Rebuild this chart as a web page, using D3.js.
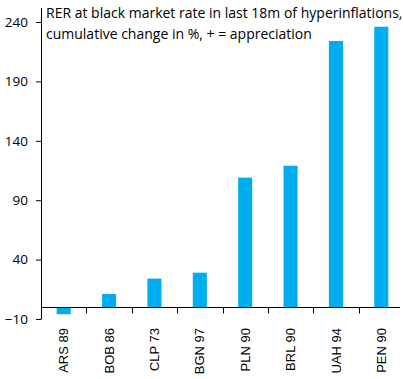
<!DOCTYPE html>
<html>
<head>
<meta charset="utf-8">
<script src="https://cdn.jsdelivr.net/npm/d3@7"></script>
<style>
  body { margin: 0; background: #fff; }
  text { font-family: "Liberation Sans", Arial, sans-serif; fill: #000; }
</style>
</head>
<body>
<div class="chart"></div>
<script>
(function() {
  var categories = ['ARS 89', 'BOB 86', 'CLP 73', 'BGN 97', 'PLN 90', 'BRL 90', 'UAH 94', 'PEN 90'];
  var values = [-6, 11, 24, 29, 109, 119, 224, 236];
  var yTicks = [-10, 40, 90, 140, 190, 240];
  var titleLines = ['RER at black market rate in last 18m  of hyperinflations,',
                    'cumulative change in %, + = appreciation'];

  var opts = { width: 403, height: 379, left: 41, right: 404, top: 22, bottom: 319 };

  var svg = d3.select('.chart')
              .append('svg')
              .attr('width', opts.width)
              .attr('height', opts.height);

  var y = d3.scaleLinear().domain([-10, 240]).range([opts.bottom, opts.top]);
  var x = d3.scaleBand().domain(categories).range([opts.left, opts.right]).padding(0);
  var bw = x.bandwidth();
  var barW = bw * 0.31;

  // bars
  svg.selectAll('.bar').data(values)
    .enter().append('rect')
      .attr('class', 'bar')
      .attr('x', function(d, i) { return x(categories[i]) + (bw - barW) / 2; })
      .attr('y', function(d) { return y(Math.max(d, 0)); })
      .attr('width', barW)
      .attr('height', function(d) { return Math.abs(y(d) - y(0)); })
      .style('fill', '#00AEEF');

  // y axis
  var yAxis = svg.append('g')
    .attr('transform', 'translate(' + opts.left + ',0)')
    .call(d3.axisLeft(y).tickValues(yTicks).tickSize(5).tickPadding(8).tickSizeOuter(0));
  yAxis.select('.domain').attr('d', 'M0.5,8V' + (opts.bottom + 0.5)).attr('stroke', '#000');
  yAxis.selectAll('.tick line').attr('stroke', '#000');
  yAxis.selectAll('.tick text')
    .style('font-size', '13.5px')
    .style('font-family', '"Open Sans", "Liberation Sans", sans-serif');

  // x axis along zero
  var y0 = Math.round(y(0)) + 0.5;
  svg.append('line')
    .attr('x1', opts.left).attr('x2', 400)
    .attr('y1', y0).attr('y2', y0)
    .attr('stroke', '#000').attr('stroke-width', 1.2);

  svg.selectAll('.xtick').data(categories.slice(1))
    .enter().append('line')
      .attr('class', 'xtick')
      .attr('x1', function(d) { return Math.round(x(d)) + 0.5; })
      .attr('x2', function(d) { return Math.round(x(d)) + 0.5; })
      .attr('y1', y0).attr('y2', y0 + 6)
      .attr('stroke', '#000');

  svg.selectAll('.xlabel').data(categories)
    .enter().append('text')
      .attr('class', 'xlabel')
      .attr('transform', function(d) {
        return 'translate(' + (x(d) + bw / 2) + ',328) rotate(-90)';
      })
      .attr('dy', '0.35em')
      .attr('text-anchor', 'end')
      .style('font-size', '13px')
      .text(function(d) { return d; });

  // title
  svg.selectAll('.title').data(titleLines)
    .enter().append('text')
      .attr('class', 'title')
      .attr('x', 46)
      .attr('y', function(d, i) { return 18 + i * 21; })
      .style('font-size', '14px')
      .style('font-family', '"Open Sans", "Liberation Sans", sans-serif')
      .text(function(d) { return d; });
}).call(this);
</script>
</body>
</html>
